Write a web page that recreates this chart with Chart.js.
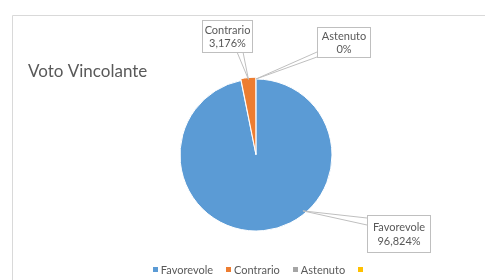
<!DOCTYPE html>
<html>
<head>
<meta charset="utf-8">
<script src="https://cdn.jsdelivr.net/npm/chart.js@4.4.1/dist/chart.umd.min.js"></script>
<style>
  html, body { margin: 0; padding: 0; background: #ffffff; }
  #wrap { position: relative; width: 485px; height: 280px; }
</style>
</head>
<body>
<div id="wrap"><canvas id="c" width="485" height="280"></canvas></div>
<script>
const chartTitle = 'Voto Vincolante';
const categories = ['Favorevole', 'Contrario', 'Astenuto', ''];
const values = [96.824, 3.176, 0, 0];
const valueLabels = ['96,824%', '3,176%', '0%', ''];
const colors = ['#5B9BD5', '#ED7D31', '#A5A5A5', '#FFC000'];

const FONT = 'Lato, "Open Sans", sans-serif';
const TEXT = '#595959';

// callout layout (relative to pie centre), purely presentational
const callouts = {
  0: { box: [111, 60, 63, 37], anchorAngle: 140, anchorR: 0.96, wedge: [[111, 63], [111, 70]] },
  1: { box: [-54, -135, 50, 32], anchorAngle: null, anchorR: 1.0, wedge: [[-19, -103], [-13, -103]] },
  2: { box: [61, -128, 53, 30], anchorAngle: 0, anchorR: 1.0, wedge: [[61, -103], [61, -98]] }
};

const overlay = {
  id: 'overlay',
  beforeDraw(chart) {
    const ctx = chart.ctx;
    ctx.save();
    ctx.strokeStyle = '#D9D9D9';
    ctx.lineWidth = 1;
    ctx.beginPath();
    ctx.moveTo(12.5, 280);
    ctx.lineTo(12.5, 15.5);
    ctx.lineTo(485, 15.5);
    ctx.stroke();
    // title
    ctx.fillStyle = TEXT;
    ctx.font = '17px ' + FONT;
    ctx.textBaseline = 'alphabetic';
    ctx.textAlign = 'left';
    ctx.fillText(chartTitle, 28, 77);
    ctx.restore();
  },
  afterDraw(chart) {
    const ctx = chart.ctx;
    const meta = chart.getDatasetMeta(0);
    const a0 = meta.data[0];
    const cx = a0.x, cy = a0.y, R = a0.outerRadius;
    ctx.save();
    Object.keys(callouts).forEach(k => {
      const i = +k;
      const c = callouts[i];
      const arc = meta.data[i];
      let ax, ay;
      if (c.anchorAngle === null) {
        const mid = (arc.startAngle + arc.endAngle) / 2;
        ax = arc.x + Math.cos(mid) * (R * c.anchorR);
        ay = arc.y + Math.sin(mid) * (R * c.anchorR);
      } else {
        const ang = (c.anchorAngle - 90) * Math.PI / 180;
        ax = cx + Math.cos(ang) * R * c.anchorR;
        ay = cy + Math.sin(ang) * R * c.anchorR;
      }
      const [bx, by, bw, bh] = c.box;
      const x = Math.round(cx + bx) + 0.5, y = Math.round(cy + by) + 0.5;
      ctx.strokeStyle = '#BFBFBF';
      ctx.lineWidth = 1;
      ctx.beginPath();
      ctx.moveTo(cx + c.wedge[0][0], cy + c.wedge[0][1]);
      ctx.lineTo(ax, ay);
      ctx.lineTo(cx + c.wedge[1][0], cy + c.wedge[1][1]);
      ctx.stroke();
      ctx.fillStyle = '#ffffff';
      ctx.fillRect(x, y, bw, bh);
      ctx.strokeRect(x, y, bw, bh);
      ctx.fillStyle = TEXT;
      ctx.font = '11px ' + FONT;
      ctx.textAlign = 'center';
      ctx.textBaseline = 'middle';
      ctx.fillText(categories[i], x + bw / 2, y + bh / 2 - 6.5);
      ctx.fillText(valueLabels[i], x + bw / 2, y + bh / 2 + 7);
    });
    // legend
    ctx.font = '11px ' + FONT;
    ctx.textBaseline = 'middle';
    ctx.textAlign = 'left';
    const box = 5, gapT = 3, gapI = 13;
    let total = 0;
    const widths = categories.map(t => ctx.measureText(t).width);
    categories.forEach((t, i) => {
      total += box + (t ? gapT + widths[i] : 0);
      if (i < categories.length - 1) total += gapI;
    });
    let lx = 258 - total / 2;
    const ly = 270;
    categories.forEach((t, i) => {
      ctx.fillStyle = colors[i];
      ctx.fillRect(Math.round(lx), ly - 3, box, box);
      lx += box;
      if (t) {
        ctx.fillStyle = TEXT;
        ctx.fillText(t, lx + gapT, ly);
        lx += gapT + widths[i];
      }
      lx += gapI;
    });
    ctx.restore();
  }
};

new Chart(document.getElementById('c'), {
  type: 'pie',
  data: {
    labels: categories,
    datasets: [{
      data: values,
      backgroundColor: colors,
      borderColor: '#ffffff',
      borderWidth: 1,
      offset: [0, 4, 0, 0]
    }]
  },
  options: {
    responsive: false,
    animation: false,
    radius: 76,
    layout: { padding: { left: 27, right: 0, top: 49, bottom: 19 } },
    plugins: {
      legend: { display: false },
      tooltip: { enabled: false },
      title: { display: false }
    }
  },
  plugins: [overlay]
});
</script>
</body>
</html>
